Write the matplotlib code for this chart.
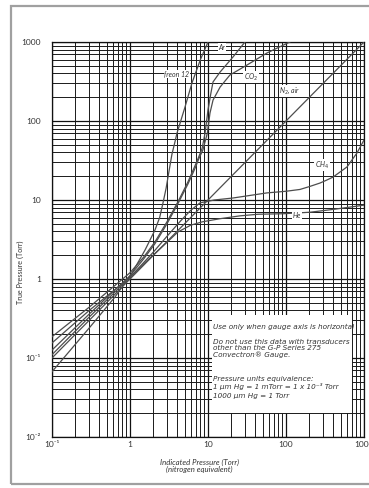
import matplotlib
matplotlib.use("Agg")
import matplotlib.pyplot as plt
from matplotlib.patches import Rectangle
from matplotlib.ticker import LogLocator, NullFormatter, FixedLocator

plt.rcParams['font.family'] = ['Lato', 'DejaVu Sans']

# Indicated pressure (N2 equivalent, Torr) vs true pressure (Torr) per gas
n2_ind = [0.1, 1000]
n2_true = [0.1, 1000]

freon_ind = [0.1, 0.3, 0.64, 1.06, 1.56, 2.09, 2.4, 2.65, 2.9, 3.07, 3.45, 3.78, 4.0, 5.07, 6.23, 8.0, 10.0]
freon_true = [0.067, 0.24, 0.59, 1.19, 2.33, 4.17, 6.0, 9.2, 14, 19.5, 38, 55, 70, 150, 303, 600, 1000]

ar_ind = [0.1, 0.3, 1.0, 1.5, 2.09, 2.98, 4.12, 5.54, 6.8, 7.6, 8.4, 9.16, 10.0, 10.9, 11.6, 14.3, 20.9, 29.8]
ar_true = [0.186, 0.44, 1.2, 1.9, 2.95, 5.3, 9.5, 17, 27, 35, 45, 70, 138, 226, 312, 417, 646, 1000]

co2_ind = [0.1, 0.3, 1.0, 1.5, 2.09, 2.98, 4.12, 5.54, 6.8, 7.6, 8.6, 9.8, 10.6, 11.6, 14.3, 19.1, 31.6, 57, 112]
co2_true = [0.126, 0.36, 1.1, 1.8, 2.8, 5.0, 9.0, 16, 25, 33, 43, 70, 126, 184, 269, 382, 511, 726, 1000]

he_ind = [0.1, 0.3, 1.0, 1.6, 2.57, 4.12, 6.0, 8.5, 14.3, 25.7, 43.8, 91.5, 203, 401, 1000]
he_true = [0.155, 0.4, 1.05, 1.65, 2.54, 3.94, 4.8, 5.3, 5.8, 6.3, 6.6, 6.7, 7.0, 7.6, 8.6]

ch4_ind = [0.1, 0.3, 1.0, 2.0, 3.0, 4.5, 6.0, 7.9, 12, 20.9, 57, 100, 151, 200, 273, 330, 401, 605, 813, 1000]
ch4_true = [0.11, 0.33, 1.05, 2.2, 3.5, 5.5, 7.4, 9.2, 10, 10.6, 12.3, 12.9, 13.6, 14.8, 16.4, 17.8, 19.5, 26.2, 39.4, 57.4]

x_ticks = [0.1, 1, 10, 100, 1000]
x_tick_labels = ['10\u207b\u00b9', '1', '10', '100', '1000']
y_ticks = [0.01, 0.1, 1, 10, 100, 1000]
y_tick_labels = ['10\u207b\u00b2', '10\u207b\u00b9', '1', '10', '100', '1000']

W, H = 369, 488
fig = plt.figure(figsize=(W / 100, H / 100), dpi=100)


def fx(px):
    return px / W


def fy(py):
    return 1 - py / H


# page frame
fig.patches.append(Rectangle((fx(11), fy(484)), fx(380), (484 - 6) / H,
                             transform=fig.transFigure, fill=False,
                             edgecolor='#a0a0a0', lw=1.6))

ax = fig.add_axes([fx(52), fy(437), 312 / W, 395 / H])
ax.set_xscale('log')
ax.set_yscale('log')
ax.set_xlim(0.1, 1000)
ax.set_ylim(0.01, 1000)
ax.set_axisbelow(True)

ax.xaxis.set_major_locator(FixedLocator(x_ticks))
ax.yaxis.set_major_locator(FixedLocator(y_ticks))
ax.set_xticklabels(x_tick_labels)
ax.set_yticklabels(y_tick_labels)
ax.xaxis.set_minor_locator(LogLocator(base=10, subs=range(2, 10), numticks=20))
ax.yaxis.set_minor_locator(LogLocator(base=10, subs=range(2, 10), numticks=20))
ax.xaxis.set_minor_formatter(NullFormatter())
ax.yaxis.set_minor_formatter(NullFormatter())
ax.tick_params(which='both', length=0, labelsize=6, colors='#333333')
ax.tick_params(axis='y', pad=8)
ax.tick_params(axis='x', pad=3)
ax.grid(which='major', color='#111111', lw=0.9)
ax.grid(which='minor', color='#1a1a1a', lw=0.7)
for s in ax.spines.values():
    s.set_color('#111111')
    s.set_linewidth(0.9)

curve_style = dict(color='#4d4d4d', lw=0.9, zorder=4)
ax.plot(n2_ind, n2_true, **curve_style)
ax.plot(freon_ind, freon_true, **curve_style)
ax.plot(ar_ind, ar_true, **curve_style)
ax.plot(co2_ind, co2_true, **curve_style)
ax.plot(he_ind, he_true, **curve_style)
ax.plot(ch4_ind, ch4_true, **curve_style)

# white note panel over the grid
ax.add_patch(Rectangle((fx(212), fy(413)), 140 / W, 98 / H, transform=fig.transFigure,
                       facecolor='white', edgecolor='none', zorder=5))

note_style = dict(fontsize=5.2, style='italic', color='#333333', va='center', ha='left',
                  zorder=6, family=['DejaVu Sans'])
fig.text(fx(213), fy(327), 'Use only when gauge axis is horizontal', **note_style)
fig.text(fx(213), fy(342), 'Do not use this data with transducers', **note_style)
fig.text(fx(213), fy(348.5), 'other than the G-P Series 275', **note_style)
fig.text(fx(213), fy(355), 'Convectron\u00ae Gauge.', **note_style)
fig.text(fx(213), fy(379), 'Pressure units equivalence:', **note_style)
fig.text(fx(213), fy(387), '1 \u03bcm Hg = 1 mTorr = 1 x 10\u207b\u00b3 Torr', **note_style)
fig.text(fx(213), fy(396), '1000 \u03bcm Hg = 1 Torr', **note_style)

label_style = dict(fontsize=5, style='italic', color='#333333', va='center', ha='center', zorder=7,
                   bbox=dict(facecolor='white', edgecolor='none', pad=0.6))
fig.text(fx(222), fy(47), 'Ar', **label_style)
fig.text(fx(177), fy(74), 'freon 12', **label_style)
fig.text(fx(251), fy(77), 'CO$_2$', **label_style)
fig.text(fx(290), fy(91), 'N$_2$, air', **label_style)
fig.text(fx(322), fy(165), 'CH$_4$', **label_style)
fig.text(fx(297), fy(215), 'He', **label_style)

fig.text(fx(199), fy(462), 'Indicated Pressure (Torr)', fontsize=5.6, style='italic',
         color='#333333', ha='center', va='center')
fig.text(fx(199), fy(469), '(nitrogen equivalent)', fontsize=5.6, style='italic',
         color='#333333', ha='center', va='center')
fig.text(fx(20), fy(272), 'True Pressure (Torr)', fontsize=5.2, rotation=90,
         color='#333333', ha='center', va='center')

fig.savefig('out.png', dpi=100)
